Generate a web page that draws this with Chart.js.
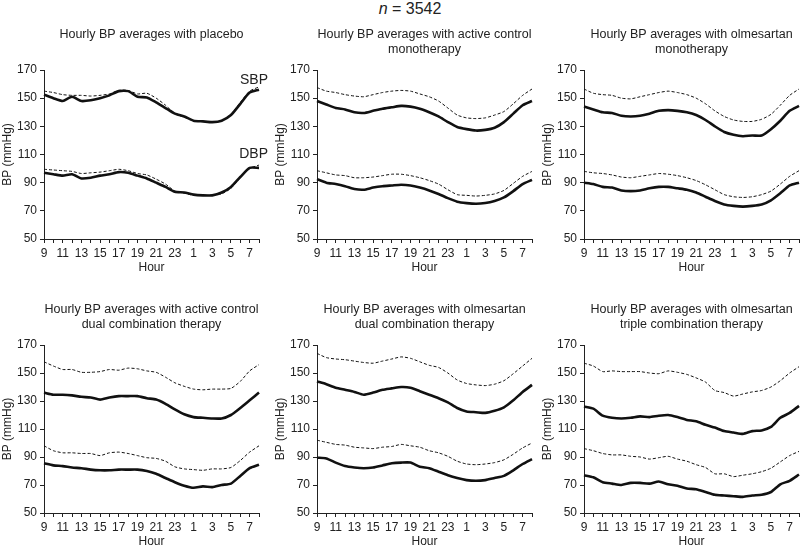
<!DOCTYPE html>
<html>
  <head>
    <meta charset="UTF-8" />
    <title>Hourly BP averages</title>
    <script src="https://cdn.jsdelivr.net/npm/chart.js"></script>
    <style>
      body {
        margin: 0;
        width: 800px;
        height: 547px;
        overflow: hidden;
        background: #fff;
        font-family: "Liberation Sans", Arial, sans-serif;
        position: relative;
      }

      .header {
        position: absolute;
        top: 0;
        left: 360px;
        width: 100px;
        text-align: center;
        font-size: 16px;
        color: #222;
      }

      .panel {
        position: absolute;
        width: 270px;
      }
    </style>
  </head>

  <body>
    <div class="header"><i>n</i> = 3542</div>

    <div class="panel" style="left: 0; top: 20px; height: 255px"><canvas id="c1"></canvas></div>
    <div class="panel" style="left: 273px; top: 20px; height: 255px"><canvas id="c2"></canvas></div>
    <div class="panel" style="left: 540px; top: 20px; height: 255px"><canvas id="c3"></canvas></div>
    <div class="panel" style="left: 0; top: 295px; height: 254px"><canvas id="c4"></canvas></div>
    <div class="panel" style="left: 273px; top: 295px; height: 254px"><canvas id="c5"></canvas></div>
    <div class="panel" style="left: 540px; top: 295px; height: 254px"><canvas id="c6"></canvas></div>

    <script>
      // hours 9 .. 23, 0 .. 8
      const hours = ["9", "10", "11", "12", "13", "14", "15", "16", "17", "18", "19", "20",
        "21", "22", "23", "0", "1", "2", "3", "4", "5", "6", "7", "8"];
      const yTicks = [50, 70, 90, 110, 130, 150, 170];

      // placebo
      const placeboSbp = [152.5, 150, 148, 151, 148, 148.5, 150, 152, 155, 155, 151, 150.5, 147, 143, 139, 137, 134, 133.5, 133, 134, 138, 146, 154, 156];
      const placeboSbpDash = [155, 154, 152.5, 152, 152, 151.5, 152, 153, 155.5, 155.5, 153, 153.5, 150, 145, 139, 136.5, 134, 133.5, 133, 134, 138.5, 147, 155, 158];
      const placeboDbp = [97, 96, 95, 96, 93, 93.5, 95, 96, 97.5, 97, 95, 93, 90, 87, 83.5, 83, 81.5, 81, 81, 83, 87, 94, 100.5, 100.5];
      const placeboDbpDash = [99.5, 99, 98.5, 98, 96.5, 97, 97.5, 98.5, 99.5, 98.5, 96.5, 95.5, 92.5, 89, 84, 82.5, 81, 81, 81, 82, 86, 93.5, 100, 102.5];

      // active control monotherapy
      const acMonoSbp = [148, 145.5, 143, 142, 140, 139.5, 141, 142.5, 143.5, 144.5, 144, 142.5, 140, 137, 133, 129.5, 128, 127, 127.5, 129, 133, 139, 145, 148];
      const acMonoSbpDash = [157.5, 155, 154, 152.5, 151.5, 151, 152.5, 154, 155, 155.5, 155, 153, 151, 148, 143, 138, 136, 135.5, 136, 138, 140.5, 146, 152, 156.5];
      const acMonoDbp = [92.5, 90, 89, 87.5, 85.5, 85, 86.5, 87.5, 88, 88.5, 88, 86.5, 84.5, 82, 79, 76.5, 75.5, 75, 75.5, 77, 79.5, 84, 89, 92];
      const acMonoDbpDash = [98.5, 97, 95.5, 95, 93.5, 93.5, 94, 95, 96, 96, 95, 93.5, 91.5, 89, 85, 81.5, 81, 80.5, 81, 82, 84.5, 89.5, 94.5, 98];

      // olmesartan monotherapy
      const olmMonoSbp = [144, 142, 140, 139.5, 137.5, 137, 137.5, 139, 141, 141.5, 141, 140, 138, 134.5, 130, 126, 124, 123, 123.5, 123.5, 128, 134, 141, 144.5];
      const olmMonoSbpDash = [156.5, 153.5, 152.5, 152, 150, 149.5, 151, 152.5, 154, 155, 154, 152.5, 150, 146, 141, 137, 134.5, 133.5, 133.5, 135, 138.5, 145, 152, 156.5];
      const olmMonoDbp = [90, 89, 87, 86.5, 84.5, 84, 84.5, 86, 87, 87, 86, 85, 83, 80, 77, 74.5, 73.5, 73, 73.5, 74.5, 77.5, 82.5, 88, 90];
      const olmMonoDbpDash = [98, 97, 96.5, 95.5, 94, 93.5, 94.5, 95.5, 96.5, 96, 95, 93.5, 91.5, 88.5, 85, 81.5, 80, 79.5, 80, 81.5, 84, 89, 94.5, 98.5];

      // active control dual combination
      const acDualSbp = [136, 134.5, 134.5, 134, 133, 132.5, 131, 132.5, 133.5, 133.5, 133.5, 132, 131, 128, 124, 120.5, 118.5, 118, 117.5, 117.5, 120, 125, 130.5, 136];
      const acDualSbpDash = [158, 155, 152.5, 152.5, 150.5, 150.5, 151, 152.5, 152, 153.5, 153, 151.5, 150.5, 147, 143, 140.5, 138.5, 138, 138.5, 138.5, 139, 144, 151.5, 156];
      const acDualDbp = [85.5, 84, 83.5, 82.5, 82, 81, 80.5, 80.5, 81, 81, 81, 80, 78, 75, 72, 69.5, 68, 69, 68.5, 70, 71, 76.5, 82, 84.5];
      const acDualDbpDash = [98, 94.5, 93, 93, 92.5, 92.5, 91, 93, 93.5, 92.5, 91, 89.5, 89, 87, 83, 81.5, 81, 80.5, 81.5, 81.5, 82.5, 87.5, 93.5, 98];

      // olmesartan dual combination
      const olmDualSbp = [144, 142, 139.5, 138, 136.5, 134.5, 136, 138, 139, 140, 139.5, 137, 134.5, 132, 129, 125, 122.5, 122, 121.5, 123, 125.5, 130.5, 136.5, 141.5];
      const olmDualSbpDash = [164, 161, 160, 159.5, 158.5, 157.5, 157, 158.5, 160, 161.5, 160.5, 158, 155.5, 154, 150, 145, 142.5, 141.5, 141, 142, 144.5, 149.5, 155, 160.5];
      const olmDualDbp = [89.5, 89, 86, 83.5, 82.5, 82, 82.5, 84, 85.5, 86, 86, 83, 82, 79.5, 77, 75, 73.5, 73, 73.5, 75, 76.5, 80.5, 85, 88.5];
      const olmDualDbpDash = [102, 100.5, 99, 98.5, 97, 96.5, 96, 97, 97.5, 99, 98, 97, 94.5, 93, 90.5, 87, 85, 84.5, 85, 86, 88, 92, 96.5, 100];

      // olmesartan triple combination
      const olmTripleSbp = [126, 124.5, 119.5, 118, 117.5, 118, 119, 118.5, 119.5, 120, 118.5, 116.5, 115.5, 113, 111, 108.5, 107.5, 106.5, 108.5, 109, 111.5, 118, 121.5, 126.5];
      const olmTripleSbpDash = [157, 155, 151, 151.5, 151, 151, 151, 150, 149.5, 151.5, 150.5, 149, 146.5, 143.5, 137.5, 136, 133.5, 135, 136.5, 137.5, 140, 144.5, 150, 154.5];
      const olmTripleDbp = [77, 75.5, 72, 71, 70, 71.5, 71.5, 71, 72.5, 70.5, 69.5, 67.5, 67, 65, 63, 62.5, 62, 61.5, 62.5, 63, 65, 70.5, 73, 77.5];
      const olmTripleDbpDash = [96, 94.5, 92.5, 91.5, 91.5, 90.5, 90, 88.5, 89.5, 90.5, 88.5, 87, 84.5, 82.5, 78, 78, 76, 77, 78, 79.5, 82, 86.5, 91, 94];

      const panels = [
        { id: "c1", title: ["Hourly BP averages with placebo", ""], data: [placeboSbp, placeboSbpDash, placeboDbp, placeboDbpDash], tags: true },
        { id: "c2", title: ["Hourly BP averages with active control", "monotherapy"], data: [acMonoSbp, acMonoSbpDash, acMonoDbp, acMonoDbpDash] },
        { id: "c3", title: ["Hourly BP averages with olmesartan", "monotherapy"], data: [olmMonoSbp, olmMonoSbpDash, olmMonoDbp, olmMonoDbpDash] },
        { id: "c4", title: ["Hourly BP averages with active control", "dual combination therapy"], data: [acDualSbp, acDualSbpDash, acDualDbp, acDualDbpDash] },
        { id: "c5", title: ["Hourly BP averages with olmesartan", "dual combination therapy"], data: [olmDualSbp, olmDualSbpDash, olmDualDbp, olmDualDbpDash] },
        { id: "c6", title: ["Hourly BP averages with olmesartan", "triple combination therapy"], data: [olmTripleSbp, olmTripleSbpDash, olmTripleDbp, olmTripleDbpDash] },
      ];

      const txt = "#222";
      const font = "'Liberation Sans', Arial, sans-serif";

      // SBP / DBP tags in the placebo panel
      const tagPlugin = {
        id: "tags",
        afterDatasetsDraw(chart, args, opts) {
          if (!opts.on) return;
          const { ctx, scales } = chart;
          const x = scales.x.getPixelForValue(23) + 9;
          ctx.save();
          ctx.font = "14px " + font;
          ctx.fillStyle = txt;
          ctx.textAlign = "right";
          ctx.textBaseline = "middle";
          ctx.fillText("SBP", x, scales.y.getPixelForValue(163));
          ctx.fillText("DBP", x, scales.y.getPixelForValue(110));
          ctx.restore();
        },
      };

      function lineSet(values, dashed) {
        return {
          data: values,
          borderColor: "#111",
          borderWidth: dashed ? 1 : 2.6,
          borderDash: dashed ? [3, 2] : [],
          pointRadius: 0,
          tension: 0.2,
          fill: false,
        };
      }

      panels.forEach((p) => {
        new Chart(document.getElementById(p.id), {
          type: "line",
          data: {
            labels: hours,
            datasets: [
              lineSet(p.data[0], false),
              lineSet(p.data[1], true),
              lineSet(p.data[2], false),
              lineSet(p.data[3], true),
            ],
          },
          plugins: [tagPlugin],
          options: {
            responsive: true,
            maintainAspectRatio: false,
            animation: false,
            layout: { padding: { top: 0, bottom: 0, left: 0, right: 11 } },
            plugins: {
              legend: { display: false },
              tooltip: { enabled: false },
              tags: { on: !!p.tags },
              title: {
                display: true,
                fullSize: false,
                text: p.title,
                color: txt,
                font: { family: font, size: 12.5, weight: "normal", lineHeight: 1.2 },
                padding: { top: 7, bottom: 13 },
              },
            },
            scales: {
              x: {
                offset: false,
                afterFit(scale) {
                  scale.height = 36;
                },
                grid: { drawOnChartArea: false, tickLength: 4, color: "#222" },
                border: { color: "#222", width: 1 },
                ticks: {
                  autoSkip: false,
                  maxRotation: 0,
                  padding: 3,
                  color: txt,
                  font: { family: font, size: 12 },
                  callback: (v, i) => (i % 2 === 0 ? hours[i] : ""),
                },
                title: {
                  display: true,
                  text: "Hour",
                  color: txt,
                  font: { family: font, size: 12 },
                  padding: 0,
                },
              },
              y: {
                min: 50,
                max: 170,
                afterFit(scale) {
                  scale.width = 44;
                },
                grid: { drawOnChartArea: false, tickLength: 4, color: "#222" },
                border: { color: "#222", width: 1 },
                ticks: {
                  stepSize: 10,
                  padding: 3,
                  color: txt,
                  font: { family: font, size: 12 },
                  callback: (v) => (yTicks.includes(v) ? v : ""),
                },
                title: {
                  display: true,
                  text: "BP (mmHg)",
                  color: txt,
                  font: { family: font, size: 12 },
                  padding: { top: 0, bottom: 0 },
                },
              },
            },
          },
        });
      });
    </script>
  </body>
</html>
